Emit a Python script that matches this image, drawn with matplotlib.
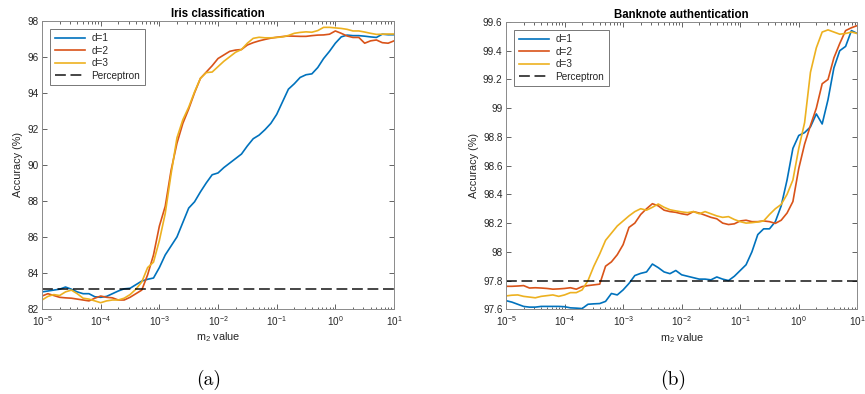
import numpy as np
import matplotlib
matplotlib.use("Agg")
import matplotlib.pyplot as plt
from matplotlib.ticker import FixedLocator, FuncFormatter, NullFormatter

plt.rcParams['font.family'] = ['Liberation Sans', 'DejaVu Sans']
plt.rcParams['mathtext.fontset'] = 'custom'
plt.rcParams['mathtext.rm'] = 'Liberation Sans'
plt.rcParams['mathtext.it'] = 'Liberation Sans:italic'
plt.rcParams['mathtext.default'] = 'regular'

# m2 sample values (10 per decade from 1e-5 to 1e1)
m2_values = 10.0 ** np.linspace(-5, 1, 61)

series_labels = ["d=1", "d=2", "d=3"]
perceptron_label = "Perceptron"

iris_d1 = [82.95, 83.0, 83.05, 83.1, 83.22, 83.1, 82.95, 82.85, 82.85, 82.68,
           82.65, 82.7, 82.85, 83.0, 83.12, 83.15, 83.35, 83.55, 83.65, 83.72,
           84.3, 85.0, 85.5, 86.0, 86.8, 87.6, 87.95, 88.5, 89.0, 89.45,
           89.55, 89.85, 90.1, 90.35, 90.6, 91.05, 91.45, 91.65, 91.95, 92.3,
           92.8, 93.5, 94.2, 94.5, 94.85, 95.0, 95.05, 95.4, 95.9, 96.3,
           96.75, 97.1, 97.2, 97.17, 97.17, 97.14, 97.1, 97.07, 97.25, 97.22,
           97.22]
iris_d2 = [82.72, 82.85, 82.75, 82.65, 82.62, 82.6, 82.55, 82.5, 82.45, 82.6,
           82.72, 82.65, 82.62, 82.5, 82.5, 82.65, 82.85, 83.05, 83.9, 85.0,
           86.6, 87.7, 89.7, 91.2, 92.3, 93.1, 94.0, 94.8, 95.15, 95.5,
           95.9, 96.1, 96.3, 96.37, 96.4, 96.65, 96.78, 96.88, 96.96, 97.03,
           97.08, 97.12, 97.15, 97.14, 97.13, 97.13, 97.17, 97.2, 97.21, 97.25,
           97.43, 97.3, 97.15, 97.07, 97.07, 96.75, 96.88, 96.93, 96.78, 96.75,
           96.88]
iris_d3 = [82.5, 82.7, 82.8, 82.75, 82.95, 83.05, 82.85, 82.6, 82.55, 82.45,
           82.35, 82.45, 82.5, 82.5, 82.6, 82.8, 83.1, 83.5, 84.3, 84.6,
           85.8, 87.3, 89.5, 91.5, 92.5, 93.2, 94.05, 94.8, 95.12, 95.15,
           95.45, 95.75, 96.0, 96.25, 96.4, 96.75, 97.02, 97.08, 97.05, 97.05,
           97.07, 97.1, 97.18, 97.3, 97.35, 97.38, 97.36, 97.45, 97.63, 97.63,
           97.6, 97.57, 97.52, 97.43, 97.43, 97.37, 97.3, 97.24, 97.25, 97.26,
           97.26]
iris_perceptron = 83.1

bank_d1 = [97.66, 97.65, 97.635, 97.62, 97.615, 97.615, 97.62, 97.62, 97.62, 97.62,
           97.618, 97.61, 97.608, 97.605, 97.635, 97.638, 97.64, 97.655, 97.71, 97.70,
           97.735, 97.78, 97.835, 97.85, 97.86, 97.915, 97.89, 97.86, 97.848, 97.87,
           97.84, 97.83, 97.82, 97.81, 97.81, 97.805, 97.825, 97.81, 97.80, 97.83,
           97.87, 97.91, 98.0, 98.12, 98.16, 98.16, 98.21, 98.32, 98.5, 98.72,
           98.81, 98.83, 98.87, 98.96, 98.89, 99.06, 99.28, 99.4, 99.43, 99.54,
           99.52]
bank_d2 = [97.76, 97.76, 97.762, 97.765, 97.748, 97.75, 97.748, 97.745, 97.74, 97.742,
           97.745, 97.75, 97.74, 97.758, 97.765, 97.77, 97.775, 97.9, 97.93, 97.98,
           98.05, 98.17, 98.2, 98.26, 98.3, 98.335, 98.32, 98.29, 98.28, 98.275,
           98.265, 98.258, 98.28, 98.27, 98.255, 98.24, 98.23, 98.2, 98.19, 98.195,
           98.215, 98.22, 98.21, 98.21, 98.215, 98.21, 98.198, 98.22, 98.27, 98.35,
           98.58, 98.75, 98.88, 99.0, 99.17, 99.2, 99.35, 99.45, 99.54, 99.56,
           99.575]
bank_d3 = [97.693, 97.698, 97.7, 97.69, 97.685, 97.68, 97.69, 97.695, 97.7, 97.69,
           97.70, 97.716, 97.716, 97.735, 97.8, 97.9, 97.985, 98.08, 98.13, 98.18,
           98.215, 98.25, 98.28, 98.30, 98.29, 98.31, 98.333, 98.31, 98.293, 98.285,
           98.278, 98.273, 98.28, 98.265, 98.28, 98.265, 98.25, 98.24, 98.245, 98.225,
           98.21, 98.2, 98.203, 98.208, 98.215, 98.26, 98.3, 98.33, 98.4, 98.5,
           98.72, 98.9, 99.25, 99.42, 99.53, 99.545, 99.53, 99.515, 99.52, 99.53,
           99.52]
bank_perceptron = 97.8

iris_yticks = [82, 84, 86, 88, 90, 92, 94, 96, 98]
bank_yticks = [97.6, 97.8, 98.0, 98.2, 98.4, 98.6, 98.8, 99.0, 99.2, 99.4, 99.6]
x_major_ticks = [1e-5, 1e-4, 1e-3, 1e-2, 1e-1, 1e0, 1e1]

titles = ["Iris classification", "Banknote authentication"]
captions = ["(a)", "(b)"]
xlabel = "m$_2$ value"
ylabel = "Accuracy (%)"

colors = ["#0072BD", "#D95319", "#EDB120"]
axis_color = "#262626"

fig = plt.figure(figsize=(8.65, 3.94), dpi=100)
ax1 = fig.add_axes([0.0486, 0.2157, 0.4069, 0.7318])
ax2 = fig.add_axes([0.5850, 0.2150, 0.4061, 0.7292])

x_minor_ticks = [m * d for d in x_major_ticks[:-1] for m in range(2, 10)]


def draw(ax, ys, perc, yticks, title, caption, cap_x):
    for y, c, lab in zip(ys, colors, series_labels):
        ax.plot(m2_values, y, color=c, lw=1.2, label=lab)
    ax.axhline(perc, color="black", lw=1.2, linestyle=(0, (6.5, 2.8)),
               label=perceptron_label, alpha=0.85)
    ax.set_xscale("log")
    ax.set_xlim(1e-5, 1e1)
    ax.set_ylim(yticks[0], yticks[-1])
    ax.yaxis.set_major_locator(FixedLocator(yticks))
    ax.yaxis.set_major_formatter(FuncFormatter(lambda v, p: "%g" % round(v, 3)))
    ax.xaxis.set_major_locator(FixedLocator(x_major_ticks))
    ax.xaxis.set_minor_locator(FixedLocator(x_minor_ticks))
    ax.xaxis.set_major_formatter(FuncFormatter(lambda v, p: r"$10^{%d}$" % round(np.log10(v))))
    ax.xaxis.set_minor_formatter(NullFormatter())
    ax.tick_params(which="both", direction="in", top=True, right=True,
                   colors=axis_color, labelcolor=axis_color, labelsize=7.2, width=0.5)
    ax.tick_params(which="major", length=3.5, pad=2.5)
    ax.tick_params(axis="x", which="major", pad=3.5)
    ax.tick_params(which="minor", length=1.8)
    for s in ax.spines.values():
        s.set_color("#8a8a8a")
        s.set_linewidth(0.7)
    ax.set_title(title, fontsize=8.3, fontweight="bold", color="black", pad=3)
    ax.set_xlabel(xlabel, fontsize=7.8, color=axis_color, labelpad=2)
    ax.set_ylabel(ylabel, fontsize=7.8, color=axis_color, labelpad=3)
    leg = ax.legend(loc="upper left", fontsize=7.2, frameon=True, fancybox=False,
                    handlelength=3.0, labelspacing=0.25, borderpad=0.45,
                    handletextpad=0.7, borderaxespad=0.8)
    leg.get_frame().set_edgecolor("#555555")
    leg.get_frame().set_linewidth(0.7)
    for t in leg.get_texts():
        t.set_color(axis_color)
    fig.text(cap_x, 0.035, caption, ha="center", va="center",
             fontsize=14, fontfamily=["cmr10", "DejaVu Serif"])


draw(ax1, [iris_d1, iris_d2, iris_d3], iris_perceptron, iris_yticks,
     titles[0], captions[0], 209 / 865)
draw(ax2, [bank_d1, bank_d2, bank_d3], bank_perceptron, bank_yticks,
     titles[1], captions[1], 673 / 865)

fig.savefig("out.png", dpi=100)
